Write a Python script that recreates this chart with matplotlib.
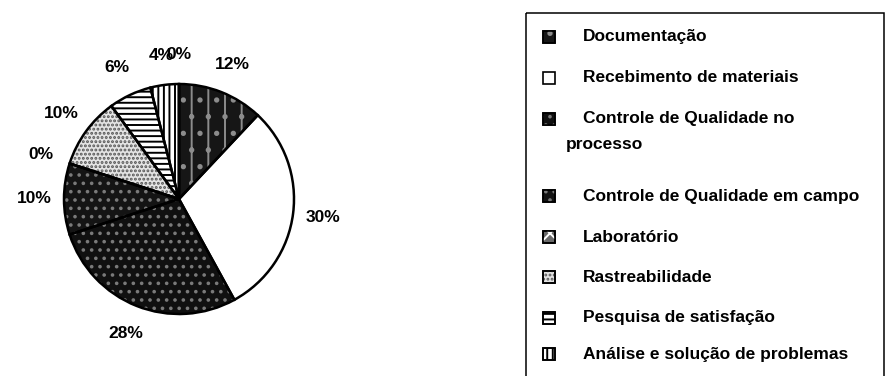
import matplotlib
matplotlib.use("Agg")
import matplotlib.pyplot as plt
from matplotlib.patches import Rectangle

plt.rcParams['font.family'] = ['Liberation Sans', 'DejaVu Sans']
plt.rcParams['hatch.linewidth'] = 1.4

# Share of each quality activity (%), clockwise from 12 o'clock
categories = [
    "Documentação",
    "Recebimento de materiais",
    "Controle de Qualidade no processo",
    "Controle de Qualidade em campo",
    "Laboratório",
    "Rastreabilidade",
    "Pesquisa de satisfação",
    "Análise e solução de problemas",
    "Outros",
]
values = [12, 30, 28, 10, 0, 10, 6, 4, 0]

# Fill / hatch styling per slice
face_colors = ['#161616', '#ffffff', '#101010', '#141414', '#6a6a6a',
               '#e4e4e4', '#ffffff', '#ffffff', '#ffffff']
hatches = ['|.', None, '..', '..', 'xx', '....', '---', '|||', None]
hatch_colors = ['#8c8c8c', 'black', '#7a7a7a', '#7a7a7a', 'white',
                '#555555', 'black', 'black', 'black']

W, H = 886, 376
fig = plt.figure(figsize=(W / 100, H / 100), dpi=100)
fig.patch.set_facecolor('white')

# Pie placed by pixel geometry: centre (179, 199), radius 115
cx, cy, r = 179, 199, 115
ax = fig.add_axes([(cx - r) / W, (H - cy - r) / H, 2 * r / W, 2 * r / H])

common = dict(startangle=90, counterclock=False, radius=1.0)

# Layer 1: solid fills
fills, _ = ax.pie(values, colors=face_colors,
                  wedgeprops=dict(linewidth=0), **common)

# Layer 2: hatch textures
hatch_layer, _ = ax.pie(values, colors=['none'] * len(values),
                        wedgeprops=dict(linewidth=0), **common)
for w, h, hc in zip(hatch_layer, hatches, hatch_colors):
    w.set_facecolor('none')
    w.set_edgecolor(hc)
    w.set_linewidth(0)
    if h:
        w.set_hatch(h)

# Layer 3: outlines and percentage labels
outline, _, pct = ax.pie(values, colors=['none'] * len(values),
                         autopct=lambda p: f"{p:.0f}%", pctdistance=1.26,
                         wedgeprops=dict(fill=False, edgecolor='black',
                                         linewidth=1.8), **common)
for t in pct:
    t.set_fontsize(12.5)
    t.set_fontweight('bold')
    t.set_color('black')
    t.set_clip_on(False)

ax.set_xlim(-1, 1)
ax.set_ylim(-1, 1)
ax.set_aspect('auto')
ax.axis('off')

# Legend drawn in pixel space
lg = fig.add_axes([0, 0, 1, 1], zorder=-1)
lg.set_xlim(0, W)
lg.set_ylim(H, 0)
lg.axis('off')
lg.add_patch(Rectangle((526, 13), 358, 400, fill=False, edgecolor='black',
                       linewidth=1.1, clip_on=False))

legend_rows = [37, 78, 119, 196, 237, 277, 317.5, 354]
legend_labels = [
    ["Documentação"],
    ["Recebimento de materiais"],
    ["Controle de Qualidade no", "processo"],
    ["Controle de Qualidade em campo"],
    ["Laboratório"],
    ["Rastreabilidade"],
    ["Pesquisa de satisfação"],
    ["Análise e solução de problemas"],
]
for i, (y, lines) in enumerate(zip(legend_rows, legend_labels)):
    lg.add_patch(Rectangle((543, y - 6), 12, 12, facecolor=face_colors[i],
                           edgecolor='black', linewidth=1.2))
    if hatches[i]:
        lg.add_patch(Rectangle((543, y - 6), 12, 12, facecolor='none',
                               edgecolor=hatch_colors[i], linewidth=0,
                               hatch=hatches[i]))
        lg.add_patch(Rectangle((543, y - 6), 12, 12, facecolor='none',
                               edgecolor='black', linewidth=1.2))
    lg.text(583, y, lines[0], fontsize=12.5, fontweight='bold',
            ha='left', va='center')
    if len(lines) > 1:
        lg.text(566, y + 26, lines[1], fontsize=12.5, fontweight='bold',
                ha='left', va='center')

fig.savefig("out.png", dpi=100)
